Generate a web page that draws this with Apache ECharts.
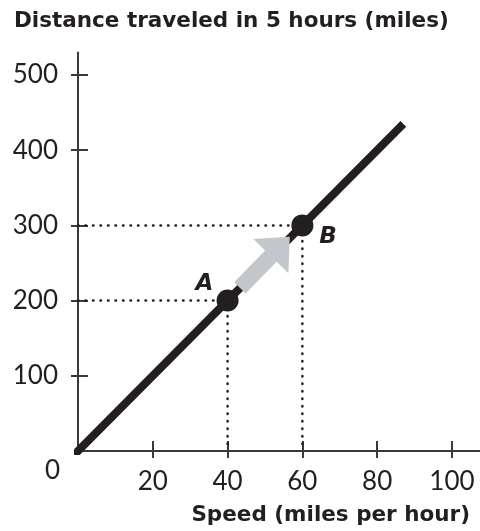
<!DOCTYPE html>
<html>
<head>
<meta charset="utf-8">
<script src="https://cdn.jsdelivr.net/npm/echarts@6/dist/echarts.min.js"></script>
<style>html,body{margin:0;padding:0;background:#fff}#c{width:480px;height:531px}</style>
</head>
<body>
<div id="c"></div>
<script>
// ---- data ----
var xTicks = [20, 40, 60, 80, 100];
var yTicks = [100, 200, 300, 400, 500];
var lineData = [[-1, -5], [87, 435]];
var pointNames = ['A', 'B'];
var pointData = [[40, 200], [60, 300]];
var arrowFrom = [43.3, 217];
var arrowTo = [54.1, 272];
var titleText = 'Distance traveled in 5 hours (miles)';
var xTitle = 'Speed (miles per hour)';

var FONT = 'Lato';
var BFONT = 'DejaVu Sans';
var INK = '#231f20';
var AXIS = '#3a3a3a';

var chart = echarts.init(document.getElementById('c'), null, {renderer: 'canvas'});

function guide(p) {
  return {
    type: 'line', xAxisIndex: 0, yAxisIndex: 0, silent: true, symbol: 'none',
    data: [[0, p[1]], [p[0], p[1]], [p[0], 0]],
    lineStyle: {color: INK, width: 2.5, type: [0.5, 7], cap: 'round'},
    z: 2
  };
}

var option = {
  animation: false,
  backgroundColor: '#fff',
  title: [
    {text: titleText, left: 9, top: 5,
     textStyle: {fontFamily: BFONT, fontWeight: 'bold', fontSize: 21.5, color: INK}},
    {text: xTitle, right: 5, bottom: 0,
     textStyle: {fontFamily: BFONT, fontWeight: 'bold', fontSize: 21.5, color: INK}}
  ],
  grid: {left: 78, right: 0, top: 52.4, bottom: 80, containLabel: false},
  xAxis: [
    {type: 'value', min: 0, max: 107.5, interval: 20,
     axisLine: {show: true, lineStyle: {color: AXIS, width: 2}},
     axisTick: {show: true, length: 7, inside: false, customValues: xTicks, lineStyle: {color: AXIS, width: 2}},
     axisLabel: {show: true, customValues: xTicks, margin: 18, fontFamily: FONT, fontSize: 26, color: INK},
     splitLine: {show: false}},
    {type: 'value', min: 0, max: 107.5, interval: 20, position: 'bottom',
     axisLine: {show: false},
     axisTick: {show: true, length: 10, inside: true, customValues: xTicks, lineStyle: {color: AXIS, width: 2}},
     axisLabel: {show: false}, splitLine: {show: false}}
  ],
  yAxis: [
    {type: 'value', min: 0, max: 530, interval: 100,
     axisLine: {show: true, lineStyle: {color: AXIS, width: 2}},
     axisTick: {show: true, length: 7, inside: false, customValues: yTicks, lineStyle: {color: AXIS, width: 2}},
     axisLabel: {show: true, customValues: yTicks, margin: 20, fontFamily: FONT, fontSize: 26, color: INK},
     splitLine: {show: false}},
    {type: 'value', min: 0, max: 530, interval: 100, position: 'left',
     axisLine: {show: false},
     axisTick: {show: true, length: 10, inside: true, customValues: yTicks, lineStyle: {color: AXIS, width: 2}},
     axisLabel: {show: false}, splitLine: {show: false}}
  ],
  graphic: [
    {type: 'text', left: 45, top: 458,
     style: {text: '0', fontFamily: FONT, fontSize: 26, fill: INK}}
  ],
  series: [
    guide(pointData[0]),
    guide(pointData[1]),
    {
      type: 'line', xAxisIndex: 0, yAxisIndex: 0, data: [], silent: true,
      markLine: {
        silent: true, animation: false,
        symbol: ['none', 'triangle'], symbolSize: [49, 27],
        label: {show: false},
        lineStyle: {color: '#c3c6ca', width: 16, type: 'solid', opacity: 1},
        data: [[{coord: arrowFrom}, {coord: arrowTo}]]
      },
      z: 3
    },
    {
      type: 'line', xAxisIndex: 0, yAxisIndex: 0, data: lineData, symbol: 'none', silent: true,
      lineStyle: {color: INK, width: 8, cap: 'butt'}, z: 4
    },
    {
      type: 'scatter', xAxisIndex: 0, yAxisIndex: 0, silent: true, symbolSize: 22, z: 5,
      itemStyle: {color: INK, opacity: 1},
      data: pointData.map(function (p, i) {
        return {
          value: p, name: pointNames[i],
          label: {
            show: true, formatter: '{b}', fontFamily: BFONT, fontWeight: 'bold', fontStyle: 'italic',
            fontSize: 23, color: INK, opacity: 1,
            position: i === 0 ? [-21, -17] : [28, 11]
          }
        };
      })
    }
  ]
};
chart.setOption(option);
</script>
</body>
</html>
